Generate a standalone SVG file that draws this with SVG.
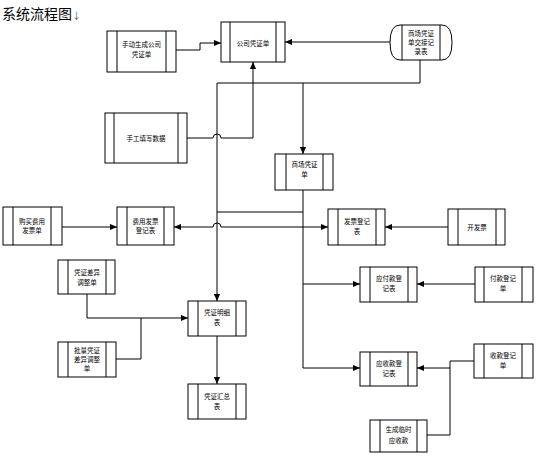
<svg xmlns="http://www.w3.org/2000/svg" width="536" height="457" viewBox="0 0 536 457">
<defs>
<marker id="arr" viewBox="0 0 8 8" refX="8" refY="4" markerWidth="7" markerHeight="7" markerUnits="userSpaceOnUse" orient="auto">
<path d="M0,0.5 L8,4 L0,7.5 Z" fill="#000"/>
</marker>
</defs>
<style>
.b{fill:#fff;stroke:#000;stroke-width:1}
.l{fill:none;stroke:#000;stroke-width:1}
.t{font-family:"Noto Sans CJK SC","Noto Sans",sans-serif;font-size:6.5px;fill:#000;text-anchor:middle}
.c{fill:none;stroke:#000;stroke-width:1}
.a{marker-end:url(#arr)}
.title{font-family:"Noto Sans CJK SC","Noto Sans",sans-serif;font-size:14px;fill:#000}
</style>
<rect width="536" height="457" fill="#fff"/>
<text class="title" x="2" y="19">系统流程图<tspan font-size="9" fill="#555">↓</tspan></text>

<g id="connectors">
<path class="c a" d="M176,50 H200 V43 H221"/>
<path class="c a" d="M392,42 H285"/>
<path class="c a" d="M420,60 V83 H217 V301"/>
<path class="c a" d="M303,83 V154"/>
<path class="c a" d="M187,138 H213 A4,4 0 0 1 221,138 H253 V62"/>
<path class="c" d="M303,190 V368"/>
<path class="c" d="M303,212 H217"/>
<path class="c a" d="M303,227 H221 A4,4 0 0 0 213,227 H174"/>
<path class="c a" d="M303,227 H328"/>
<path class="c a" d="M62,227 H117"/>
<path class="c a" d="M448,227 H385"/>
<path class="c a" d="M303,284 H360"/>
<path class="c a" d="M475,284 H417"/>
<path class="c a" d="M303,368 H360"/>
<path class="c" d="M474,361 H450 V435 H427"/>
<path class="c a" d="M450,368 H417"/>
<path class="c a" d="M87,294 V318 H188"/>
<path class="c" d="M116,359 H141 V318"/>
<path class="c a" d="M217,336 V384"/>
</g>

<g id="n1"><rect class="b" x="107" y="31" width="69" height="41"/><path class="l" d="M117,31V72M166,31V72"/><text class="t" x="141.5" y="47">手动生成公司</text><text class="t" x="141.5" y="57">凭证单</text></g>
<g id="n2"><rect class="b" x="221" y="22" width="64" height="40"/><path class="l" d="M230,22V62M276,22V62"/><text class="t" x="253" y="46">公司凭证单</text></g>
<g id="n3"><path class="b" d="M400,25 H442 Q452,25 452,42.5 Q452,60 442,60 H400 Q390,60 390,42.5 Q390,25 400,25 Z"/><path class="l" d="M402,25V60M440,25V60"/><text class="t" x="421" y="35.5">商场凭证</text><text class="t" x="421" y="44.5">单交接记</text><text class="t" x="421" y="53.5">录表</text></g>
<g id="n4"><rect class="b" x="105" y="113" width="82" height="50"/><path class="l" d="M114,113V163M178,113V163"/><text class="t" x="146" y="140.5">手工填写数据</text></g>
<g id="n5"><rect class="b" x="275" y="154" width="58" height="36"/><path class="l" d="M286,154V190M323,154V190"/><text class="t" x="304.5" y="167">商场凭证</text><text class="t" x="304.5" y="177">单</text></g>
<g id="n6"><rect class="b" x="3" y="207" width="59" height="38"/><path class="l" d="M13,207V245M51,207V245"/><text class="t" x="32" y="223.5">购买费用</text><text class="t" x="32" y="233">发票单</text></g>
<g id="n7"><rect class="b" x="117" y="207" width="57" height="38"/><path class="l" d="M127,207V245M164,207V245"/><text class="t" x="145.5" y="223.5">费用发票</text><text class="t" x="145.5" y="233">登记表</text></g>
<g id="n8"><rect class="b" x="328" y="209" width="57" height="36"/><path class="l" d="M338,209V245M376,209V245"/><text class="t" x="357" y="224">发票登记</text><text class="t" x="357" y="234">表</text></g>
<g id="n9"><rect class="b" x="448" y="209" width="57" height="36"/><path class="l" d="M458,209V245M496,209V245"/><text class="t" x="477" y="229.5">开发票</text></g>
<g id="n10"><rect class="b" x="360" y="267" width="57" height="35"/><path class="l" d="M370,267V302M408,267V302"/><text class="t" x="389" y="281">应付款登</text><text class="t" x="389" y="291">记表</text></g>
<g id="n11"><rect class="b" x="475" y="267" width="58" height="35"/><path class="l" d="M484,267V302M522,267V302"/><text class="t" x="503" y="281">付款登记</text><text class="t" x="503" y="291">单</text></g>
<g id="n12"><rect class="b" x="58" y="260" width="57" height="34"/><path class="l" d="M68,260V294M106,260V294"/><text class="t" x="87" y="275">凭证差异</text><text class="t" x="87" y="285">调整单</text></g>
<g id="n13"><rect class="b" x="188" y="301" width="58" height="35"/><path class="l" d="M198,301V336M236,301V336"/><text class="t" x="217" y="315">凭证明细</text><text class="t" x="217" y="325">表</text></g>
<g id="n14"><rect class="b" x="58" y="342" width="58" height="35"/><path class="l" d="M68,342V377M106,342V377"/><text class="t" x="87" y="352.5">批量凭证</text><text class="t" x="87" y="361.5">差异调整</text><text class="t" x="87" y="370.5">单</text></g>
<g id="n15"><rect class="b" x="188" y="384" width="58" height="35"/><path class="l" d="M198,384V419M236,384V419"/><text class="t" x="217" y="399">凭证汇总</text><text class="t" x="217" y="409">表</text></g>
<g id="n16"><rect class="b" x="360" y="352" width="57" height="34"/><path class="l" d="M370,352V386M408,352V386"/><text class="t" x="389" y="366">应收款登</text><text class="t" x="389" y="376">记表</text></g>
<g id="n17"><rect class="b" x="474" y="344" width="59" height="34"/><path class="l" d="M484,344V378M522,344V378"/><text class="t" x="503" y="358">收款登记</text><text class="t" x="503" y="368">单</text></g>
<g id="n18"><rect class="b" x="370" y="420" width="57" height="32"/><path class="l" d="M380,420V452M417,420V452"/><text class="t" x="398.5" y="432">生成临时</text><text class="t" x="398.5" y="443">应收款</text></g>
</svg>
